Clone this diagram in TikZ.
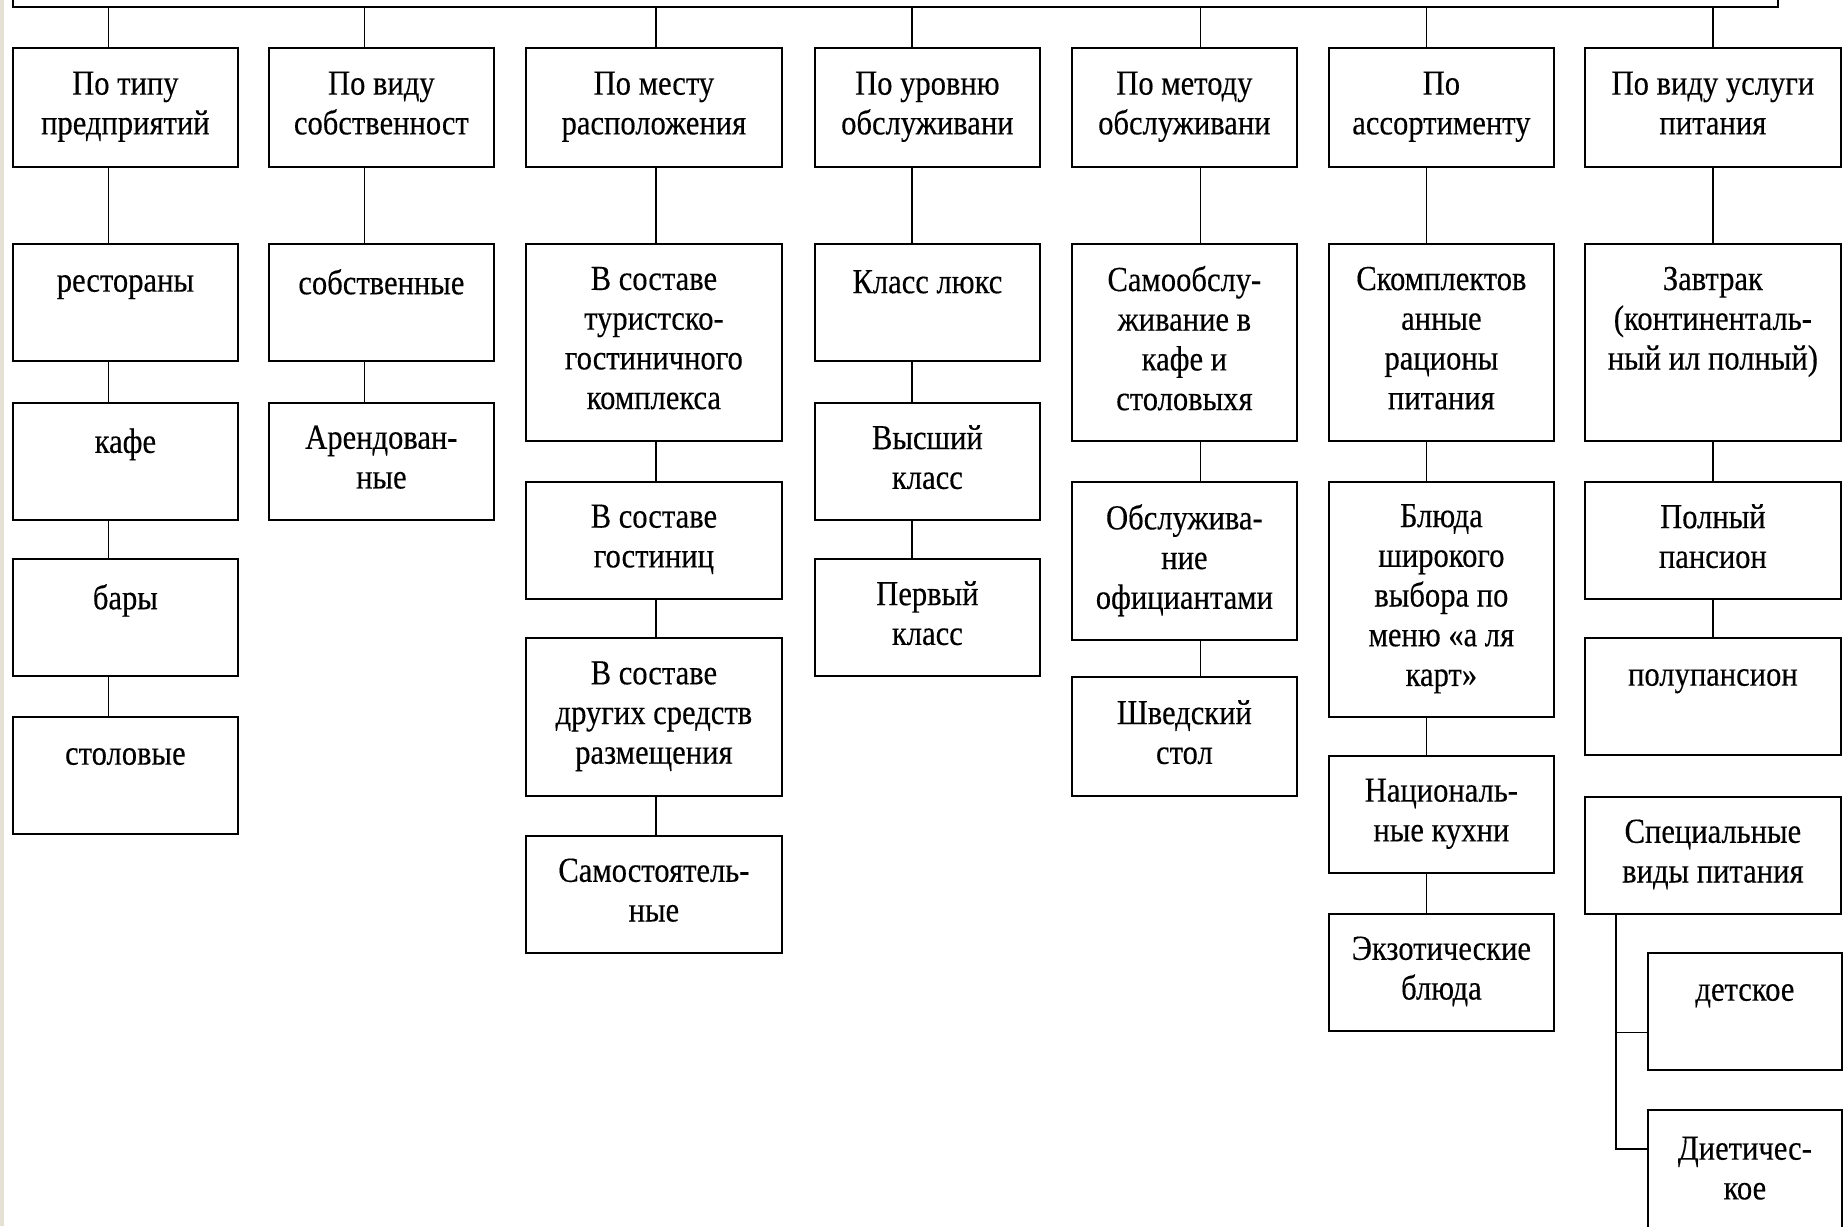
\documentclass[tikz,border=0pt]{standalone}
\usepackage{fontspec}
\setmainfont{Liberation Serif}[FakeStretch=0.87,FakeBold=0.3]
\definecolor{strip}{RGB}{229,224,212}
\begin{document}
\begin{tikzpicture}[x=1mm,y=-1mm,line width=0.5pt,
  box/.style={draw, align=center, inner sep=0pt, anchor=north west,
    minimum width=22.5mm, minimum height=11.7mm,
    font=\fontsize{10}{11.3}\selectfont,
    execute at begin node={\rule{0pt}{15pt}},
    execute at end node={\rule[-2.5pt]{0pt}{2.5pt}}},
  cat/.style={box, minimum height=11.9mm},
  wide/.style={minimum width=25.6mm},
  h3/.style={minimum height=15.8mm},
  h4/.style={minimum height=19.7mm},
  h5/.style={minimum height=23.5mm}]
\useasboundingbox (0,0) rectangle (184.3,122.6);
\clip (0,0) rectangle (184.3,122.6);
\fill[strip] (0,0) rectangle (0.4,122.6);

\node[box, anchor=south west, minimum width=176.5mm, minimum height=8mm] (top) at (1.2,0.8) {};

\node[cat] (t1) at (1.2,4.7) {По типу\\предприятий};
\node[cat] (t2) at (26.8,4.7) {По виду\\собственност};
\node[cat,wide] (t3) at (52.5,4.7) {По месту\\расположения};
\node[cat] (t4) at (81.4,4.7) {По уровню\\обслуживани};
\node[cat] (t5) at (107.1,4.7) {По методу\\обслуживани};
\node[cat] (t6) at (132.8,4.7) {По\\ассортименту};
\node[cat,wide] (t7) at (158.4,4.7) {По виду услуги\\питания};

\node[box] (a1) at (1.2,24.3) {рестораны\\[-2pt]~};
\node[box] (a2) at (1.2,40.2) {кафе\\[-2pt]~};
\node[box] (a3) at (1.2,55.8) {бары\\[-2pt]~};
\node[box] (a4) at (1.2,71.6) {столовые\\[-2pt]~};

\node[box] (b1) at (26.8,24.3) {собственные\\[-2pt]~};
\node[box] (b2) at (26.8,40.2) {Арендован-\\ные};

\node[box,wide,h4] (c1) at (52.5,24.3) {В составе\\туристско-\\гостиничного\\комплекса};
\node[box,wide] (c2) at (52.5,48.1) {В составе\\гостиниц};
\node[box,wide,h3] (c3) at (52.5,63.7) {В составе\\других средств\\размещения};
\node[box,wide] (c4) at (52.5,83.5) {Самостоятель-\\ные};

\node[box] (d1) at (81.4,24.3) {Класс люкс\\[-2pt]~};
\node[box] (d2) at (81.4,40.2) {Высший\\класс};
\node[box] (d3) at (81.4,55.8) {Первый\\класс};

\node[box,h4] (e1) at (107.1,24.3) {Самообслу-\\живание в\\кафе и\\столовыхя};
\node[box,h3] (e2) at (107.1,48.1) {Обслужива-\\ние\\официантами};
\node[box,minimum height=11.9mm] (e3) at (107.1,67.6) {Шведский\\стол};

\node[box,h4] (f1) at (132.8,24.3) {Скомплектов\\анные\\рационы\\питания};
\node[box,h5] (f2) at (132.8,48.1) {Блюда\\широкого\\выбора по\\меню «а ля\\карт»};
\node[box] (f3) at (132.8,75.5) {Националь-\\ные кухни};
\node[box] (f4) at (132.8,91.3) {Экзотические\\блюда};

\node[box,wide,h4] (g1) at (158.4,24.3) {Завтрак\\(континенталь-\\ный ил полный)\\~};
\node[box,wide] (g2) at (158.4,48.1) {Полный\\пансион};
\node[box,wide] (g3) at (158.4,63.7) {полупансион\\[-2pt]~};
\node[box,wide] (g4) at (158.4,79.6) {Специальные\\виды питания};
\node[box,minimum width=19.4mm] (h1) at (164.7,95.2) {детское\\[-2pt]~};
\node[box,minimum width=19.4mm,minimum height=12.5mm] (h2) at (164.7,110.9) {Диетичес-\\кое};

\foreach \n/\d in {t1/-1.7, t2/-1.7, t3/0.2, t4/-1.55, t5/1.6, t6/-1.5, t7/0} {
  \coordinate (\n-k) at ([xshift=\d mm]\n.north);
  \draw (\n-k) -- (\n-k |- top.south);
}
\foreach \a/\b/\d in {t1/a1/-1.7, a1/a2/-1.7, a2/a3/-1.7, a3/a4/-1.7,
    t2/b1/-1.7, b1/b2/-1.7,
    t3/c1/0.2, c1/c2/0.2, c2/c3/0.2, c3/c4/0.2,
    t4/d1/-1.55, d1/d2/-1.55, d2/d3/-1.55,
    t5/e1/1.6, e1/e2/1.6, e2/e3/1.6,
    t6/f1/-1.5, f1/f2/-1.5, f2/f3/-1.5, f3/f4/-1.5,
    t7/g1/0, g1/g2/0, g2/g3/0}
  \draw ([xshift=\d mm]\a.south) -- ([xshift=\d mm]\b.north);

\coordinate (g4-k) at ([xshift=3.2mm]g4.south west);
\draw (g4-k) |- ([yshift=-2.1mm]h1.west);
\draw (g4-k) |- ([yshift=2.35mm]h2.west);
\end{tikzpicture}
\end{document}
